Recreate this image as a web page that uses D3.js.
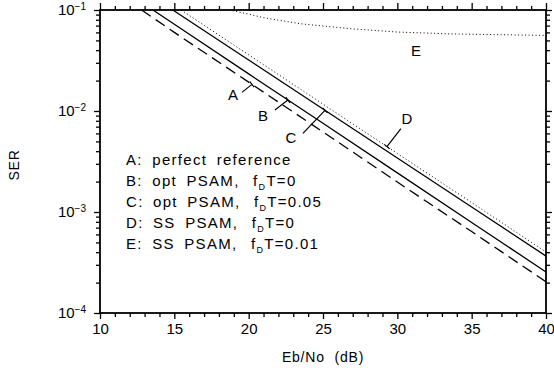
<!DOCTYPE html>
<html>
<head>
<meta charset="utf-8">
<script src="https://cdn.jsdelivr.net/npm/d3@7"></script>
<style>
  body { margin: 0; background: #fff; }
  svg text { font-family: "Liberation Sans", Arial, sans-serif; fill: #000; }
</style>
</head>
<body>
<div id="chart"></div>
<script>
// values: [Eb/No dB, SER]
var curveA = [[12.8, 0.1], [15, 0.060], [20, 0.0193], [25, 0.0062], [30, 0.00198], [35, 0.00064], [40, 0.000204]];
var curveB = [[13.56, 0.1], [15, 0.0722], [20, 0.0233], [25, 0.00755], [30, 0.00244], [35, 0.000788], [40, 0.000255]];
var curveC = [[14.9, 0.1], [15, 0.0978], [20, 0.032], [25, 0.01045], [30, 0.00342], [35, 0.00112], [40, 0.000366]];
var curveD = [[15.45, 0.1], [20, 0.036], [25, 0.0117], [30, 0.0038], [35, 0.00124], [40, 0.000402]];
var curveE = [[18.7, 0.1], [20, 0.091], [21, 0.084], [23.5, 0.073], [27, 0.065], [30, 0.0605], [33.5, 0.058], [40, 0.056]];

var xTicks = [10, 15, 20, 25, 30, 35, 40];
var yTicks = [1e-1, 1e-2, 1e-3, 1e-4];
var yExp = ["-1", "-2", "-3", "-4"];

var legendLines = [
  ["A:", "perfect reference", null],
  ["B:", "opt PSAM,", "=0"],
  ["C:", "opt PSAM,", "=0.05"],
  ["D:", "SS PSAM,", "=0"],
  ["E:", "SS PSAM,", "=0.01"]
];

var svgWidth = 554, svgHeight = 380;
var margin = { top: 10, left: 100, right: 8, bottom: 67 };
var width = 446, height = 303;

var svg = d3.select("#chart").append("svg")
  .attr("width", svgWidth)
  .attr("height", svgHeight);

var chartGroup = svg.append("g")
  .attr("transform", `translate(${margin.left}, ${margin.top})`);

var xScale = d3.scaleLinear().domain([10, 40]).range([0, width]);
var yScale = d3.scaleLog().domain([1e-4, 1e-1]).range([height, 0]);

// minor ticks
var xMinor = d3.range(10, 41, 1).filter(d => d % 5 !== 0);
var yMinor = [];
[1e-4, 1e-3, 1e-2].forEach(function(dec) {
  for (var k = 2; k <= 9; k++) yMinor.push(dec * k);
});

function styleAxis(g) {
  g.select(".domain").remove();
  g.selectAll("line").attr("stroke", "#000").attr("stroke-width", 1.3);
}

// bottom
chartGroup.append("g")
  .attr("transform", `translate(0, ${height})`)
  .call(d3.axisBottom(xScale).tickValues(xMinor).tickSize(4).tickFormat(""))
  .call(styleAxis);
var xAx = chartGroup.append("g")
  .attr("transform", `translate(0, ${height})`)
  .call(d3.axisBottom(xScale).tickValues(xTicks).tickSize(6).tickPadding(4).tickFormat(d3.format("d")))
  .call(styleAxis);
xAx.selectAll("text").attr("font-size", 15).attr("fill", "#000");

// top
chartGroup.append("g")
  .call(d3.axisTop(xScale).tickValues(xMinor).tickSize(4).tickFormat(""))
  .call(styleAxis);
chartGroup.append("g")
  .call(d3.axisTop(xScale).tickValues(xTicks).tickSize(7).tickFormat(""))
  .call(styleAxis);

// left
chartGroup.append("g")
  .call(d3.axisLeft(yScale).tickValues(yMinor).tickSize(4).tickFormat(""))
  .call(styleAxis);
var yAx = chartGroup.append("g")
  .call(d3.axisLeft(yScale).tickValues(yTicks).tickSize(6).tickPadding(8).tickFormat(""))
  .call(styleAxis);
yAx.selectAll(".tick text").each(function(d, i) {
  var t = d3.select(this).attr("font-size", 15).attr("dy", "0.32em");
  t.append("tspan").text("10");
  t.append("tspan").attr("font-size", 10).attr("dy", "-0.55em").text(yExp[i].replace("-", "\u2212"));
});

// right
chartGroup.append("g")
  .attr("transform", `translate(${width}, 0)`)
  .call(d3.axisRight(yScale).tickValues(yMinor).tickSize(4).tickFormat(""))
  .call(styleAxis);
chartGroup.append("g")
  .attr("transform", `translate(${width}, 0)`)
  .call(d3.axisRight(yScale).tickValues(yTicks).tickSize(6).tickFormat(""))
  .call(styleAxis);

// frame
chartGroup.append("rect")
  .attr("width", width).attr("height", height)
  .attr("fill", "none").attr("stroke", "#000").attr("stroke-width", 1.8);

// curves
svg.append("defs").append("clipPath").attr("id", "plotClip")
  .append("rect").attr("width", width).attr("height", height);

var line = d3.line()
  .x(d => xScale(d[0]))
  .y(d => yScale(d[1]));

var curves = [
  { data: curveA, dash: "11,6", w: 1.3 },
  { data: curveB, dash: null, w: 1.3 },
  { data: curveC, dash: null, w: 1.3 },
  { data: curveD, dash: "1,2.5", w: 1 },
  { data: curveE, dash: "1,2.5", w: 1 }
];

var curveGroup = chartGroup.append("g").attr("clip-path", "url(#plotClip)");
curves.forEach(function(c) {
  curveGroup.append("path")
    .datum(c.data)
    .attr("d", line)
    .attr("fill", "none")
    .attr("stroke", "#000")
    .attr("stroke-width", c.w)
    .attr("stroke-dasharray", c.dash);
});

// value on a curve at x (log interpolation)
function valueAt(data, xv) {
  for (var i = 0; i < data.length - 1; i++) {
    if (xv >= data[i][0] && xv <= data[i + 1][0]) {
      var t = (xv - data[i][0]) / (data[i + 1][0] - data[i][0]);
      return Math.pow(10, Math.log10(data[i][1]) + t * (Math.log10(data[i + 1][1]) - Math.log10(data[i][1])));
    }
  }
  return data[data.length - 1][1];
}

// curve labels with leader lines
var notes = [
  { name: "A", data: curveA, at: 20.22, start: [-10, 8], text: [-19, 10] },
  { name: "B", data: curveB, at: 22.64, start: [-13, 10], text: [-25, 16] },
  { name: "C", data: curveC, at: 25.13, start: [-22, 23], text: [-34, 27] },
  { name: "D", data: curveD, at: 29.3, start: [14, -18], text: [20, -28] }
];

notes.forEach(function(n) {
  var ex = xScale(n.at), ey = yScale(valueAt(n.data, n.at));
  var sx = ex + n.start[0], sy = ey + n.start[1];
  chartGroup.append("line")
    .attr("x1", sx).attr("y1", sy).attr("x2", ex).attr("y2", ey)
    .attr("stroke", "#000").attr("stroke-width", 1.2);
  var len = Math.hypot(n.start[0], n.start[1]);
  var px = -n.start[1] / len * 3.5, py = n.start[0] / len * 3.5;
  chartGroup.append("line")
    .attr("x1", ex - px).attr("y1", ey - py).attr("x2", ex + px).attr("y2", ey + py)
    .attr("stroke", "#000").attr("stroke-width", 1.2);
  chartGroup.append("text")
    .attr("x", ex + n.text[0]).attr("y", ey + n.text[1])
    .attr("text-anchor", "middle").attr("dy", "0.35em")
    .attr("font-size", 15)
    .text(n.name);
});

chartGroup.append("text")
  .attr("x", xScale(31.25)).attr("y", yScale(0.0595) + 18)
  .attr("text-anchor", "middle").attr("dy", "0.35em")
  .attr("font-size", 15)
  .text("E");

// legend block
var legend = chartGroup.append("g").attr("transform", "translate(26, 150)");
legendLines.forEach(function(l, i) {
  var t = legend.append("text")
    .attr("x", 0).attr("y", i * 21)
    .attr("dy", "0.35em")
    .attr("font-size", 15)
    .attr("letter-spacing", 1.3)
    .attr("word-spacing", 4);
  t.append("tspan").text(l[0] + " " + l[1]);
  if (l[2]) {
    t.append("tspan").text(" f").attr("dx", 4);
    t.append("tspan").text("D").attr("font-size", 9).attr("dy", 4);
    t.append("tspan").text("T" + l[2]).attr("dy", -4);
  }
});

// axis labels
svg.append("text")
  .attr("transform", "translate(19, 165) rotate(-90)")
  .attr("text-anchor", "middle")
  .attr("font-size", 14)
  .attr("letter-spacing", 0.8)
  .text("SER");

svg.append("text")
  .attr("x", 323).attr("y", 362)
  .attr("text-anchor", "middle")
  .attr("font-size", 14)
  .attr("letter-spacing", 0.8)
  .attr("word-spacing", 5)
  .text("Eb/No (dB)");
</script>
</body>
</html>
